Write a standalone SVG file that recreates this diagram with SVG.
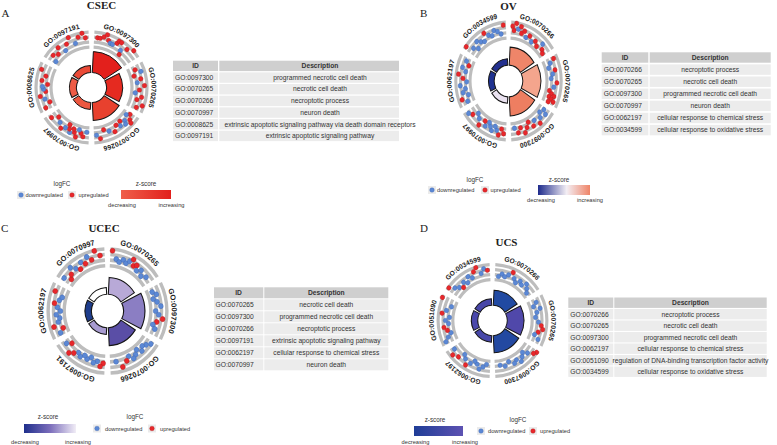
<svg xmlns="http://www.w3.org/2000/svg" xmlns:xlink="http://www.w3.org/1999/xlink" width="777" height="445" viewBox="0 0 777 445">
<style>
.bd{fill:none;stroke:#bdbdbd;stroke-width:3.2}
.bar{stroke:#141414;stroke-width:1}
.u{fill:#e8272b;stroke:#a81c1c;stroke-width:.35}
.d{fill:#5b88d5;stroke:#3d63ad;stroke-width:.35}
.go{font-family:"Liberation Sans",Arial,sans-serif;font-size:6.8px;font-weight:bold;fill:#1a1a1a;text-anchor:middle}
.tt{font-family:"Liberation Serif","Times New Roman",serif;font-weight:bold;font-size:11px;fill:#222;text-anchor:middle}
.pl{font-family:"Liberation Serif","Times New Roman",serif;font-size:11px;fill:#222}
.lg{font-family:"Liberation Sans",Arial,sans-serif;font-size:5.7px;fill:#333}
.lgh{font-family:"Liberation Sans",Arial,sans-serif;font-size:6.3px;fill:#333;text-anchor:middle}
.key{fill:#ebebeb}
.th{fill:#cfcfcf}
.tr{fill:#ececec}
.tx{font-family:"Liberation Sans",Arial,sans-serif;font-size:6.7px;fill:#333}
.tc{text-anchor:middle}
.tb{font-weight:bold}
</style>
<defs>
<g id="seg">
<path class="bd" d="M2.12,-40.44A40.5,40.5 0 0 1 33.97,-22.06"/>
<path class="bd" d="M2.38,-45.44A45.5,45.5 0 0 1 38.16,-24.78"/>
<path class="bd" d="M2.64,-50.43A50.5,50.5 0 0 1 42.35,-27.5"/>
<path class="bd" d="M2.9,-55.42A55.5,55.5 0 0 1 46.55,-30.23"/>
</g>
<path id="l1" d="M-10.42,-59.09A60,60 0 0 1 56.38,-20.52"/>
<path id="b36" class="bar" d="M0.785,-14.98L1.88,-35.95A36,36 0 0 1 30.19,-19.61L12.58,-8.17A15,15 0 0 0 0.785,-14.98Z"/>
<path id="b31" class="bar" d="M0.785,-14.98L1.62,-30.96A31,31 0 0 1 26,-16.88L12.58,-8.17A15,15 0 0 0 0.785,-14.98Z"/>
<path id="b33" class="bar" d="M0.785,-14.98L1.73,-32.95A33,33 0 0 1 27.68,-17.97L12.58,-8.17A15,15 0 0 0 0.785,-14.98Z"/>
<path id="b22" class="bar" d="M0.785,-14.98L1.15,-21.97A22,22 0 0 1 18.45,-11.98L12.58,-8.17A15,15 0 0 0 0.785,-14.98Z"/>
<path id="b21" class="bar" d="M0.785,-14.98L1.1,-20.97A21,21 0 0 1 17.61,-11.44L12.58,-8.17A15,15 0 0 0 0.785,-14.98Z"/>
<path id="b32" class="bar" d="M0.785,-14.98L1.67,-31.96A32,32 0 0 1 26.84,-17.43L12.58,-8.17A15,15 0 0 0 0.785,-14.98Z"/>
<path id="b34" class="bar" d="M0.785,-14.98L1.78,-33.95A34,34 0 0 1 28.52,-18.52L12.58,-8.17A15,15 0 0 0 0.785,-14.98Z"/>
<path id="b30" class="bar" d="M0.785,-14.98L1.57,-29.96A30,30 0 0 1 25.16,-16.34L12.58,-8.17A15,15 0 0 0 0.785,-14.98Z"/>
<path id="b35" class="bar" d="M0.785,-14.98L1.83,-34.95A35,35 0 0 1 29.35,-19.06L12.58,-8.17A15,15 0 0 0 0.785,-14.98Z"/>
<path id="b215" class="bar" d="M0.785,-14.98L1.12,-21.47A21.5,21.5 0 0 1 18.03,-11.71L12.58,-8.17A15,15 0 0 0 0.785,-14.98Z"/>
<linearGradient id="gA"><stop offset="0" stop-color="#ef5f4a"/><stop offset="1" stop-color="#e2201c"/></linearGradient>
<linearGradient id="gB"><stop offset="0" stop-color="#1e2b8c"/><stop offset=".55" stop-color="#f3eef4"/><stop offset="1" stop-color="#ef8467"/></linearGradient>
<linearGradient id="gC"><stop offset="0" stop-color="#1f2f8c"/><stop offset=".5" stop-color="#7b6dbb"/><stop offset="1" stop-color="#f1edf6"/></linearGradient>
<linearGradient id="gD"><stop offset="0" stop-color="#1f3d97"/><stop offset="1" stop-color="#5d52b2"/></linearGradient>
</defs>
<rect width="777" height="445" fill="#fff"/>

<!-- Panel A -->
<g id="panel-A">
<text class="pl" x="1.5" y="17">A</text>
<text class="tt" x="101.5" y="9">CSEC</text>
<g id="A-circle" transform="translate(91.5,87.5)">
<g id="A-GO0097300">
<use href="#seg"/><use href="#b36" fill="#e3201c"/>
<circle class="u" r="2.3" cy="-50" transform="rotate(7)"/><circle class="u" r="2.3" cy="-50" transform="rotate(10)"/><circle class="u" r="2.3" cy="-52" transform="rotate(14)"/><circle class="u" r="2.3" cy="-55" transform="rotate(17)"/><circle class="u" r="2.3" cy="-50" transform="rotate(20)"/><circle class="d" r="2.3" cy="-48" transform="rotate(23)"/><circle class="d" r="2.3" cy="-48" transform="rotate(26)"/><circle class="u" r="2.3" cy="-51" transform="rotate(30)"/><circle class="u" r="2.3" cy="-54" transform="rotate(31)"/><circle class="u" r="2.3" cy="-54" transform="rotate(34)"/><circle class="d" r="2.3" cy="-47" transform="rotate(38)"/><circle class="u" r="2.3" cy="-43" transform="rotate(40)"/><circle class="u" r="2.3" cy="-52" transform="rotate(43)"/><circle class="u" r="2.3" cy="-56" transform="rotate(49)"/>
<text class="go"><textPath href="#l1" startOffset="50%">GO:0097300</textPath></text>
</g>
<g id="A-GO0070265" transform="rotate(60)">
<use href="#seg"/><use href="#b31" fill="#e52a20"/>
<circle class="u" r="2.3" cy="-47" transform="rotate(8)"/><circle class="d" r="2.3" cy="-52" transform="rotate(12)"/><circle class="u" r="2.3" cy="-44" transform="rotate(15)"/><circle class="u" r="2.3" cy="-50" transform="rotate(20)"/><circle class="d" r="2.3" cy="-46" transform="rotate(24)"/><circle class="u" r="2.3" cy="-53" transform="rotate(28)"/><circle class="u" r="2.3" cy="-48" transform="rotate(33)"/><circle class="d" r="2.3" cy="-44" transform="rotate(37)"/><circle class="u" r="2.3" cy="-51" transform="rotate(41)"/><circle class="u" r="2.3" cy="-47" transform="rotate(45)"/><circle class="u" r="2.3" cy="-54" transform="rotate(50)"/><circle class="u" r="2.3" cy="-49" transform="rotate(54)"/>
<text class="go"><textPath href="#l1" startOffset="50%">GO:0070265</textPath></text>
</g>
<g id="A-GO0070266" transform="rotate(120)">
<use href="#seg"/><use href="#b33" fill="#e8412e"/>
<circle class="u" r="2.3" cy="-47" transform="rotate(5)"/><circle class="d" r="2.3" cy="-44" transform="rotate(8)"/><circle class="u" r="2.3" cy="-50" transform="rotate(10)"/><circle class="u" r="2.3" cy="-53" transform="rotate(12)"/><circle class="d" r="2.3" cy="-47" transform="rotate(15)"/><circle class="d" r="2.3" cy="-50" transform="rotate(17)"/><circle class="u" r="2.3" cy="-44" transform="rotate(20)"/><circle class="d" r="2.3" cy="-48" transform="rotate(23)"/><circle class="u" r="2.3" cy="-45" transform="rotate(27)"/><circle class="u" r="2.3" cy="-50" transform="rotate(32)"/><circle class="d" r="2.3" cy="-47" transform="rotate(38)"/><circle class="u" r="2.3" cy="-44" transform="rotate(44)"/><circle class="u" r="2.3" cy="-52" transform="rotate(50)"/><circle class="d" r="2.3" cy="-48" transform="rotate(54)"/>
<text class="go"><textPath href="#l1" startOffset="50%">GO:0070266</textPath></text>
</g>
<g id="A-GO0070997" transform="rotate(180)">
<use href="#seg"/><use href="#b22" fill="#ec5740"/>
<circle class="d" r="2.3" cy="-45" transform="rotate(6)"/><circle class="u" r="2.3" cy="-50" transform="rotate(10)"/><circle class="u" r="2.3" cy="-47" transform="rotate(13)"/><circle class="d" r="2.3" cy="-44" transform="rotate(16)"/><circle class="u" r="2.3" cy="-52" transform="rotate(18)"/><circle class="u" r="2.3" cy="-48" transform="rotate(21)"/><circle class="u" r="2.3" cy="-45" transform="rotate(23)"/><circle class="d" r="2.3" cy="-50" transform="rotate(26)"/><circle class="u" r="2.3" cy="-47" transform="rotate(28)"/><circle class="u" r="2.3" cy="-43" transform="rotate(30)"/><circle class="d" r="2.3" cy="-48" transform="rotate(33)"/><circle class="u" r="2.3" cy="-51" transform="rotate(37)"/><circle class="d" r="2.3" cy="-47" transform="rotate(42)"/><circle class="u" r="2.3" cy="-44" transform="rotate(48)"/><circle class="u" r="2.3" cy="-50" transform="rotate(53)"/>
<text class="go"><textPath href="#l1" startOffset="50%">GO:0070997</textPath></text>
</g>
<g id="A-GO0008625" transform="rotate(240)">
<use href="#seg"/><use href="#b22" fill="#ee5c46"/>
<circle class="u" r="2.3" cy="-50" transform="rotate(6)"/><circle class="u" r="2.3" cy="-44" transform="rotate(11)"/><circle class="d" r="2.3" cy="-48" transform="rotate(16)"/><circle class="u" r="2.3" cy="-52" transform="rotate(20)"/><circle class="u" r="2.3" cy="-46" transform="rotate(25)"/><circle class="d" r="2.3" cy="-48" transform="rotate(28)"/><circle class="d" r="2.3" cy="-49" transform="rotate(31)"/><circle class="u" r="2.3" cy="-44" transform="rotate(34)"/><circle class="u" r="2.3" cy="-50" transform="rotate(38)"/><circle class="u" r="2.3" cy="-47" transform="rotate(44)"/><circle class="u" r="2.3" cy="-53" transform="rotate(50)"/>
<text class="go"><textPath href="#l1" startOffset="50%">GO:0008625</textPath></text>
</g>
<g id="A-GO0097191" transform="rotate(300)">
<use href="#seg"/><use href="#b22" fill="#ea4a37"/>
<circle class="d" r="2.3" cy="-44" transform="rotate(6)"/><circle class="u" r="2.3" cy="-50" transform="rotate(10)"/><circle class="u" r="2.3" cy="-47" transform="rotate(15)"/><circle class="u" r="2.3" cy="-52" transform="rotate(20)"/><circle class="d" r="2.3" cy="-45" transform="rotate(25)"/><circle class="u" r="2.3" cy="-50" transform="rotate(30)"/><circle class="u" r="2.3" cy="-55" transform="rotate(35)"/><circle class="d" r="2.3" cy="-47" transform="rotate(40)"/><circle class="u" r="2.3" cy="-52" transform="rotate(45)"/><circle class="u" r="2.3" cy="-55" transform="rotate(50)"/><circle class="u" r="2.3" cy="-50" transform="rotate(53)"/>
<text class="go"><textPath href="#l1" startOffset="50%">GO:0097191</textPath></text>
</g>
</g>
<g id="A-legend">
<text class="lgh" x="62" y="186">logFC</text>
<rect class="key" x="17" y="191" width="8" height="8"/><circle class="d" r="2.3" cx="21" cy="195"/>
<text class="lg" x="25.5" y="197">downregulated</text>
<rect class="key" x="68" y="191" width="8" height="8"/><circle class="u" r="2.3" cx="72" cy="195"/>
<text class="lg" x="78.5" y="197">upregulated</text>
<text class="lgh" x="146" y="186">z-score</text>
<rect x="121" y="190" width="50" height="9" fill="url(#gA)"/>
<text class="lg tc" x="122" y="206.5">decreasing</text>
<text class="lg tc" x="171.5" y="206.5">increasing</text>
</g>
<g id="A-table" class="tx" transform="translate(173,60.7)">
<rect class="th" width="45" height="10.4"/><rect class="th" x="46.3" width="179.7" height="10.4"/>
<rect class="tr" y="11.67" width="45" height="10.4"/><rect class="tr" x="46.3" y="11.67" width="179.7" height="10.4"/>
<rect class="tr" y="23.34" width="45" height="10.4"/><rect class="tr" x="46.3" y="23.34" width="179.7" height="10.4"/>
<rect class="tr" y="35.01" width="45" height="10.4"/><rect class="tr" x="46.3" y="35.01" width="179.7" height="10.4"/>
<rect class="tr" y="46.68" width="45" height="10.4"/><rect class="tr" x="46.3" y="46.68" width="179.7" height="10.4"/>
<rect class="tr" y="58.35" width="45" height="10.4"/><rect class="tr" x="46.3" y="58.35" width="179.7" height="10.4"/>
<rect class="tr" y="70.02" width="45" height="10.4"/><rect class="tr" x="46.3" y="70.02" width="179.7" height="10.4"/>
<text class="tc tb" x="22.5" y="7.5">ID</text><text class="tc tb" x="147" y="7.5">Description</text>
<text x="2" y="19.2">GO:0097300</text><text class="tc" x="147" y="19.2">programmed necrotic cell death</text>
<text x="2" y="30.8">GO:0070265</text><text class="tc" x="147" y="30.8">necrotic cell death</text>
<text x="2" y="42.5">GO:0070266</text><text class="tc" x="147" y="42.5">necroptotic process</text>
<text x="2" y="54.2">GO:0070997</text><text class="tc" x="147" y="54.2">neuron death</text>
<text x="2" y="65.9">GO:0008625</text><text class="tc" x="147" y="65.9">extrinsic apoptotic signaling pathway via death domain receptors</text>
<text x="2" y="77.5">GO:0097191</text><text class="tc" x="147" y="77.5">extrinsic apoptotic signaling pathway</text>
</g>
</g>

<!-- Panel B -->
<g id="panel-B">
<text class="pl" x="420" y="17">B</text>
<text class="tt" x="508.5" y="10">OV</text>
<g id="B-circle" transform="translate(508.5,81) scale(0.95,1.06)">
<g id="B-GO0070266">
<use href="#seg"/><use href="#b32" fill="#ef8569"/>
<circle class="u" r="2.3" cy="-52" transform="rotate(5)"/><circle class="u" r="2.3" cy="-48" transform="rotate(7)"/><circle class="u" r="2.3" cy="-55" transform="rotate(9)"/><circle class="d" r="2.3" cy="-50" transform="rotate(12)"/><circle class="u" r="2.3" cy="-53" transform="rotate(15)"/><circle class="u" r="2.3" cy="-47" transform="rotate(17)"/><circle class="u" r="2.3" cy="-50" transform="rotate(20)"/><circle class="d" r="2.3" cy="-45" transform="rotate(24)"/><circle class="u" r="2.3" cy="-48" transform="rotate(28)"/><circle class="d" r="2.3" cy="-44" transform="rotate(33)"/><circle class="u" r="2.3" cy="-47" transform="rotate(37)"/><circle class="u" r="2.3" cy="-44" transform="rotate(42)"/><circle class="d" r="2.3" cy="-50" transform="rotate(46)"/><circle class="u" r="2.3" cy="-46" transform="rotate(50)"/><circle class="u" r="2.3" cy="-44" transform="rotate(54)"/>
<text class="go"><textPath href="#l1" startOffset="50%">GO:0070266</textPath></text>
</g>
<g id="B-GO0070265" transform="rotate(60)">
<use href="#seg"/><use href="#b34" fill="#f4a58d"/>
<circle class="u" r="2.3" cy="-52" transform="rotate(6)"/><circle class="d" r="2.3" cy="-47" transform="rotate(9)"/><circle class="d" r="2.3" cy="-44" transform="rotate(14)"/><circle class="u" r="2.3" cy="-50" transform="rotate(18)"/><circle class="d" r="2.3" cy="-47" transform="rotate(22)"/><circle class="d" r="2.3" cy="-45" transform="rotate(27)"/><circle class="u" r="2.3" cy="-51" transform="rotate(32)"/><circle class="d" r="2.3" cy="-48" transform="rotate(37)"/><circle class="u" r="2.3" cy="-44" transform="rotate(42)"/><circle class="u" r="2.3" cy="-47" transform="rotate(45)"/><circle class="u" r="2.3" cy="-50" transform="rotate(47)"/><circle class="u" r="2.3" cy="-45" transform="rotate(49)"/><circle class="u" r="2.3" cy="-48" transform="rotate(51)"/><circle class="u" r="2.3" cy="-51" transform="rotate(53)"/><circle class="u" r="2.3" cy="-46" transform="rotate(55)"/>
<text class="go"><textPath href="#l1" startOffset="50%">GO:0070265</textPath></text>
</g>
<g id="B-GO0097300" transform="rotate(120)">
<use href="#seg"/><use href="#b33" fill="#ee7e61"/>
<circle class="d" r="2.3" cy="-46" transform="rotate(6)"/><circle class="d" r="2.3" cy="-50" transform="rotate(9)"/><circle class="d" r="2.3" cy="-44" transform="rotate(12)"/><circle class="d" r="2.3" cy="-48" transform="rotate(16)"/><circle class="u" r="2.3" cy="-52" transform="rotate(20)"/><circle class="d" r="2.3" cy="-46" transform="rotate(24)"/><circle class="u" r="2.3" cy="-50" transform="rotate(28)"/><circle class="u" r="2.3" cy="-44" transform="rotate(32)"/><circle class="u" r="2.3" cy="-48" transform="rotate(36)"/><circle class="u" r="2.3" cy="-52" transform="rotate(40)"/><circle class="u" r="2.3" cy="-46" transform="rotate(44)"/><circle class="u" r="2.3" cy="-50" transform="rotate(48)"/><circle class="d" r="2.3" cy="-45" transform="rotate(52)"/>
<text class="go"><textPath href="#l1" startOffset="50%">GO:0097300</textPath></text>
</g>
<g id="B-GO0070997" transform="rotate(180)">
<use href="#seg"/><use href="#b21" fill="#e9e1ef"/>
<circle class="u" r="2.3" cy="-50" transform="rotate(6)"/><circle class="u" r="2.3" cy="-46" transform="rotate(9)"/><circle class="u" r="2.3" cy="-52" transform="rotate(12)"/><circle class="d" r="2.3" cy="-48" transform="rotate(15)"/><circle class="d" r="2.3" cy="-45" transform="rotate(18)"/><circle class="d" r="2.3" cy="-50" transform="rotate(21)"/><circle class="d" r="2.3" cy="-47" transform="rotate(24)"/><circle class="d" r="2.3" cy="-44" transform="rotate(27)"/><circle class="d" r="2.3" cy="-49" transform="rotate(30)"/><circle class="u" r="2.3" cy="-45" transform="rotate(33)"/><circle class="u" r="2.3" cy="-52" transform="rotate(37)"/><circle class="d" r="2.3" cy="-47" transform="rotate(41)"/><circle class="d" r="2.3" cy="-44" transform="rotate(46)"/><circle class="u" r="2.3" cy="-49" transform="rotate(50)"/><circle class="d" r="2.3" cy="-52" transform="rotate(54)"/>
<text class="go"><textPath href="#l1" startOffset="50%">GO:0070997</textPath></text>
</g>
<g id="B-GO0062197" transform="rotate(240)">
<use href="#seg"/><use href="#b21" fill="#1f3290"/>
<circle class="d" r="2.3" cy="-47" transform="rotate(6)"/><circle class="u" r="2.3" cy="-52" transform="rotate(10)"/><circle class="d" r="2.3" cy="-44" transform="rotate(13)"/><circle class="d" r="2.3" cy="-49" transform="rotate(17)"/><circle class="d" r="2.3" cy="-46" transform="rotate(21)"/><circle class="d" r="2.3" cy="-51" transform="rotate(25)"/><circle class="d" r="2.3" cy="-44" transform="rotate(29)"/><circle class="u" r="2.3" cy="-48" transform="rotate(33)"/><circle class="u" r="2.3" cy="-53" transform="rotate(37)"/><circle class="d" r="2.3" cy="-46" transform="rotate(41)"/><circle class="d" r="2.3" cy="-50" transform="rotate(45)"/><circle class="u" r="2.3" cy="-44" transform="rotate(49)"/><circle class="d" r="2.3" cy="-48" transform="rotate(53)"/>
<text class="go"><textPath href="#l1" startOffset="50%">GO:0062197</textPath></text>
</g>
<g id="B-GO0034599" transform="rotate(300)">
<use href="#seg"/><use href="#b21" fill="#23308e"/>
<circle class="u" r="2.3" cy="-55" transform="rotate(6)"/><circle class="d" r="2.3" cy="-48" transform="rotate(10)"/><circle class="d" r="2.3" cy="-44" transform="rotate(14)"/><circle class="d" r="2.3" cy="-50" transform="rotate(18)"/><circle class="d" r="2.3" cy="-47" transform="rotate(22)"/><circle class="d" r="2.3" cy="-45" transform="rotate(26)"/><circle class="u" r="2.3" cy="-52" transform="rotate(30)"/><circle class="d" r="2.3" cy="-48" transform="rotate(34)"/><circle class="d" r="2.3" cy="-46" transform="rotate(38)"/><circle class="d" r="2.3" cy="-50" transform="rotate(42)"/><circle class="d" r="2.3" cy="-48" transform="rotate(46)"/><circle class="d" r="2.3" cy="-45" transform="rotate(50)"/><circle class="u" r="2.3" cy="-53" transform="rotate(54)"/>
<text class="go"><textPath href="#l1" startOffset="50%">GO:0034599</textPath></text>
</g>
</g>
<g id="B-legend">
<text class="lgh" x="475" y="181.5">logFC</text>
<rect class="key" x="428" y="186" width="8" height="8"/><circle class="d" r="2.3" cx="432" cy="190"/>
<text class="lg" x="437" y="192">downregulated</text>
<rect class="key" x="481" y="186" width="8" height="8"/><circle class="u" r="2.3" cx="485" cy="190"/>
<text class="lg" x="490.5" y="192">upregulated</text>
<text class="lgh" x="559" y="181.5">z-score</text>
<rect x="538" y="185" width="52" height="10" fill="url(#gB)"/>
<text class="lg tc" x="541" y="202">decreasing</text>
<text class="lg tc" x="590" y="202">increasing</text>
</g>
<g id="B-table" class="tx" transform="translate(601.7,52.3)">
<rect class="th" width="46.6" height="10.4"/><rect class="th" x="48" width="121" height="10.4"/>
<rect class="tr" y="12.1" width="46.6" height="10.4"/><rect class="tr" x="48" y="12.1" width="121" height="10.4"/>
<rect class="tr" y="24.2" width="46.6" height="10.4"/><rect class="tr" x="48" y="24.2" width="121" height="10.4"/>
<rect class="tr" y="36.3" width="46.6" height="10.4"/><rect class="tr" x="48" y="36.3" width="121" height="10.4"/>
<rect class="tr" y="48.4" width="46.6" height="10.4"/><rect class="tr" x="48" y="48.4" width="121" height="10.4"/>
<rect class="tr" y="60.5" width="46.6" height="10.4"/><rect class="tr" x="48" y="60.5" width="121" height="10.4"/>
<rect class="tr" y="72.6" width="46.6" height="10.4"/><rect class="tr" x="48" y="72.6" width="121" height="10.4"/>
<text class="tc tb" x="23.3" y="7.5">ID</text><text class="tc tb" x="108.5" y="7.5">Description</text>
<text x="2" y="19.6">GO:0070266</text><text class="tc" x="108.5" y="19.6">necroptotic process</text>
<text x="2" y="31.7">GO:0070265</text><text class="tc" x="108.5" y="31.7">necrotic cell death</text>
<text x="2" y="43.8">GO:0097300</text><text class="tc" x="108.5" y="43.8">programmed necrotic cell death</text>
<text x="2" y="55.9">GO:0070997</text><text class="tc" x="108.5" y="55.9">neuron death</text>
<text x="2" y="68">GO:0062197</text><text class="tc" x="108.5" y="68">cellular response to chemical stress</text>
<text x="2" y="80.1">GO:0034599</text><text class="tc" x="108.5" y="80.1">cellular response to oxidative stress</text>
</g>
</g>

<!-- Panel C -->
<g id="panel-C">
<text class="pl" x="1" y="232">C</text>
<text class="tt" x="104" y="232">UCEC</text>
<g id="C-circle" transform="translate(107.5,311) scale(1.07,1.12)">
<g id="C-GO0070265">
<use href="#seg"/><use href="#b30" fill="#b8a9d7"/>
<circle class="u" r="2.3" cy="-54" transform="rotate(5)"/><circle class="d" r="2.3" cy="-47" transform="rotate(10)"/><circle class="d" r="2.3" cy="-45" transform="rotate(14)"/><circle class="d" r="2.3" cy="-48" transform="rotate(18)"/><circle class="d" r="2.3" cy="-46" transform="rotate(22)"/><circle class="d" r="2.3" cy="-49" transform="rotate(25)"/><circle class="u" r="2.3" cy="-52" transform="rotate(28)"/><circle class="u" r="2.3" cy="-47" transform="rotate(31)"/><circle class="u" r="2.3" cy="-49" transform="rotate(34)"/><circle class="d" r="2.3" cy="-45" transform="rotate(37)"/><circle class="d" r="2.3" cy="-48" transform="rotate(41)"/><circle class="d" r="2.3" cy="-44" transform="rotate(45)"/><circle class="d" r="2.3" cy="-47" transform="rotate(50)"/>
<text class="go"><textPath href="#l1" startOffset="50%">GO:0070265</textPath></text>
</g>
<g id="C-GO0097300" transform="rotate(60)">
<use href="#seg"/><use href="#b35" fill="#8b7ec3"/>
<circle class="d" r="2.3" cy="-45" transform="rotate(8)"/><circle class="d" r="2.3" cy="-48" transform="rotate(12)"/><circle class="d" r="2.3" cy="-44" transform="rotate(16)"/><circle class="d" r="2.3" cy="-47" transform="rotate(20)"/><circle class="d" r="2.3" cy="-50" transform="rotate(25)"/><circle class="d" r="2.3" cy="-45" transform="rotate(30)"/><circle class="d" r="2.3" cy="-48" transform="rotate(34)"/><circle class="u" r="2.3" cy="-52" transform="rotate(38)"/><circle class="u" r="2.3" cy="-47" transform="rotate(42)"/><circle class="d" r="2.3" cy="-44" transform="rotate(46)"/><circle class="d" r="2.3" cy="-47" transform="rotate(50)"/>
<text class="go"><textPath href="#l1" startOffset="50%">GO:0097300</textPath></text>
</g>
<g id="C-GO0070266" transform="rotate(120)">
<use href="#seg"/><use href="#b31" fill="#5a4ea6"/>
<circle class="d" r="2.3" cy="-50" transform="rotate(6)"/><circle class="d" r="2.3" cy="-47" transform="rotate(10)"/><circle class="d" r="2.3" cy="-45" transform="rotate(14)"/><circle class="d" r="2.3" cy="-48" transform="rotate(18)"/><circle class="d" r="2.3" cy="-44" transform="rotate(22)"/><circle class="d" r="2.3" cy="-47" transform="rotate(26)"/><circle class="d" r="2.3" cy="-49" transform="rotate(30)"/><circle class="d" r="2.3" cy="-45" transform="rotate(34)"/><circle class="u" r="2.3" cy="-48" transform="rotate(38)"/><circle class="u" r="2.3" cy="-52" transform="rotate(44)"/><circle class="d" r="2.3" cy="-46" transform="rotate(50)"/>
<text class="go"><textPath href="#l1" startOffset="50%">GO:0070266</textPath></text>
</g>
<g id="C-GO0097191" transform="rotate(180)">
<use href="#seg"/><use href="#b21" fill="#a89bd0"/>
<circle class="u" r="2.3" cy="-47" transform="rotate(5)"/><circle class="u" r="2.3" cy="-50" transform="rotate(8)"/><circle class="d" r="2.3" cy="-46" transform="rotate(12)"/><circle class="d" r="2.3" cy="-48" transform="rotate(16)"/><circle class="d" r="2.3" cy="-44" transform="rotate(20)"/><circle class="d" r="2.3" cy="-47" transform="rotate(24)"/><circle class="d" r="2.3" cy="-45" transform="rotate(28)"/><circle class="d" r="2.3" cy="-48" transform="rotate(32)"/><circle class="d" r="2.3" cy="-46" transform="rotate(36)"/><circle class="u" r="2.3" cy="-49" transform="rotate(40)"/><circle class="u" r="2.3" cy="-52" transform="rotate(44)"/><circle class="u" r="2.3" cy="-44" transform="rotate(49)"/><circle class="d" r="2.3" cy="-48" transform="rotate(53)"/>
<text class="go"><textPath href="#l1" startOffset="50%">GO:0097191</textPath></text>
</g>
<g id="C-GO0062197" transform="rotate(240)">
<use href="#seg"/><use href="#b21" fill="#1e3d8c"/>
<circle class="d" r="2.3" cy="-48" transform="rotate(6)"/><circle class="u" r="2.3" cy="-44" transform="rotate(10)"/><circle class="u" r="2.3" cy="-52" transform="rotate(14)"/><circle class="d" r="2.3" cy="-47" transform="rotate(18)"/><circle class="d" r="2.3" cy="-45" transform="rotate(22)"/><circle class="d" r="2.3" cy="-48" transform="rotate(26)"/><circle class="d" r="2.3" cy="-44" transform="rotate(30)"/><circle class="d" r="2.3" cy="-47" transform="rotate(34)"/><circle class="u" r="2.3" cy="-50" transform="rotate(38)"/><circle class="d" r="2.3" cy="-46" transform="rotate(42)"/><circle class="d" r="2.3" cy="-44" transform="rotate(46)"/><circle class="u" r="2.3" cy="-52" transform="rotate(50)"/>
<text class="go"><textPath href="#l1" startOffset="50%">GO:0062197</textPath></text>
</g>
<g id="C-GO0070997" transform="rotate(300)">
<use href="#seg"/><use href="#b21" fill="#ffffff"/>
<circle class="d" r="2.3" cy="-50" transform="rotate(6)"/><circle class="u" r="2.3" cy="-44" transform="rotate(10)"/><circle class="u" r="2.3" cy="-47" transform="rotate(14)"/><circle class="d" r="2.3" cy="-52" transform="rotate(18)"/><circle class="d" r="2.3" cy="-48" transform="rotate(22)"/><circle class="u" r="2.3" cy="-45" transform="rotate(26)"/><circle class="d" r="2.3" cy="-50" transform="rotate(30)"/><circle class="u" r="2.3" cy="-47" transform="rotate(34)"/><circle class="d" r="2.3" cy="-52" transform="rotate(38)"/><circle class="u" r="2.3" cy="-48" transform="rotate(42)"/><circle class="u" r="2.3" cy="-55" transform="rotate(47)"/><circle class="u" r="2.3" cy="-50" transform="rotate(52)"/>
<text class="go"><textPath href="#l1" startOffset="50%">GO:0070997</textPath></text>
</g>
</g>
<g id="C-legend">
<text class="lgh" x="48" y="419">z-score</text>
<rect x="24" y="424" width="52" height="9" fill="url(#gC)"/>
<text class="lg tc" x="25" y="444">decreasing</text>
<text class="lg tc" x="78" y="444">increasing</text>
<text class="lgh" x="135" y="419">logFC</text>
<rect class="key" x="93" y="424.5" width="8" height="8"/><circle class="d" r="2.3" cx="97" cy="428.5"/>
<text class="lg" x="105" y="430.5">downregulated</text>
<rect class="key" x="148" y="424.5" width="8" height="8"/><circle class="u" r="2.3" cx="152" cy="428.5"/>
<text class="lg" x="160" y="430.5">upregulated</text>
</g>
<g id="C-table" class="tx" transform="translate(214,287.3)">
<rect class="th" width="49.3" height="11"/><rect class="th" x="50.3" width="124" height="11"/>
<rect class="tr" y="12" width="49.3" height="11"/><rect class="tr" x="50.3" y="12" width="124" height="11"/>
<rect class="tr" y="24" width="49.3" height="11"/><rect class="tr" x="50.3" y="24" width="124" height="11"/>
<rect class="tr" y="36" width="49.3" height="11"/><rect class="tr" x="50.3" y="36" width="124" height="11"/>
<rect class="tr" y="48" width="49.3" height="11"/><rect class="tr" x="50.3" y="48" width="124" height="11"/>
<rect class="tr" y="60" width="49.3" height="11"/><rect class="tr" x="50.3" y="60" width="124" height="11"/>
<rect class="tr" y="72" width="49.3" height="11"/><rect class="tr" x="50.3" y="72" width="124" height="11"/>
<text class="tc tb" x="24.6" y="7.8">ID</text><text class="tc tb" x="112.3" y="7.8">Description</text>
<text x="1.5" y="19.8">GO:0070265</text><text class="tc" x="112.3" y="19.8">necrotic cell death</text>
<text x="1.5" y="31.8">GO:0097300</text><text class="tc" x="112.3" y="31.8">programmed necrotic cell death</text>
<text x="1.5" y="43.8">GO:0070266</text><text class="tc" x="112.3" y="43.8">necroptotic process</text>
<text x="1.5" y="55.8">GO:0097191</text><text class="tc" x="112.3" y="55.8">extrinsic apoptotic signaling pathway</text>
<text x="1.5" y="67.8">GO:0062197</text><text class="tc" x="112.3" y="67.8">cellular response to chemical stress</text>
<text x="1.5" y="79.8">GO:0070997</text><text class="tc" x="112.3" y="79.8">neuron death</text>
</g>
</g>

<!-- Panel D -->
<g id="panel-D">
<text class="pl" x="420" y="231.5">D</text>
<text class="tt" x="506.5" y="246">UCS</text>
<g id="D-circle" transform="translate(492.5,320.5) scale(0.98,1.01)">
<g id="D-GO0070266">
<use href="#seg"/><use href="#b30" fill="#214aa2"/>
<circle class="d" r="2.3" cy="-44" transform="rotate(8)"/><circle class="d" r="2.3" cy="-47" transform="rotate(12)"/><circle class="d" r="2.3" cy="-45" transform="rotate(16)"/><circle class="d" r="2.3" cy="-48" transform="rotate(20)"/><circle class="u" r="2.3" cy="-52" transform="rotate(24)"/><circle class="d" r="2.3" cy="-47" transform="rotate(28)"/><circle class="d" r="2.3" cy="-44" transform="rotate(32)"/><circle class="d" r="2.3" cy="-48" transform="rotate(36)"/><circle class="d" r="2.3" cy="-46" transform="rotate(40)"/><circle class="d" r="2.3" cy="-50" transform="rotate(44)"/><circle class="d" r="2.3" cy="-47" transform="rotate(48)"/><circle class="d" r="2.3" cy="-44" transform="rotate(52)"/>
<text class="go"><textPath href="#l1" startOffset="50%">GO:0070266</textPath></text>
</g>
<g id="D-GO0070265" transform="rotate(60)">
<use href="#seg"/><use href="#b32" fill="#5048aa"/>
<circle class="d" r="2.3" cy="-48" transform="rotate(8)"/><circle class="d" r="2.3" cy="-44" transform="rotate(12)"/><circle class="d" r="2.3" cy="-50" transform="rotate(16)"/><circle class="d" r="2.3" cy="-46" transform="rotate(20)"/><circle class="d" r="2.3" cy="-44" transform="rotate(26)"/><circle class="d" r="2.3" cy="-47" transform="rotate(32)"/><circle class="u" r="2.3" cy="-50" transform="rotate(36)"/><circle class="u" r="2.3" cy="-52" transform="rotate(40)"/><circle class="u" r="2.3" cy="-48" transform="rotate(44)"/><circle class="d" r="2.3" cy="-45" transform="rotate(48)"/><circle class="d" r="2.3" cy="-50" transform="rotate(52)"/>
<text class="go"><textPath href="#l1" startOffset="50%">GO:0070265</textPath></text>
</g>
<g id="D-GO0097300" transform="rotate(120)">
<use href="#seg"/><use href="#b32" fill="#2349a1"/>
<circle class="u" r="2.3" cy="-55" transform="rotate(5)"/><circle class="u" r="2.3" cy="-53" transform="rotate(8)"/><circle class="d" r="2.3" cy="-48" transform="rotate(12)"/><circle class="d" r="2.3" cy="-44" transform="rotate(16)"/><circle class="d" r="2.3" cy="-47" transform="rotate(20)"/><circle class="d" r="2.3" cy="-50" transform="rotate(24)"/><circle class="d" r="2.3" cy="-46" transform="rotate(28)"/><circle class="d" r="2.3" cy="-48" transform="rotate(32)"/><circle class="d" r="2.3" cy="-44" transform="rotate(38)"/><circle class="d" r="2.3" cy="-47" transform="rotate(44)"/><circle class="d" r="2.3" cy="-45" transform="rotate(50)"/>
<text class="go"><textPath href="#l1" startOffset="50%">GO:0097300</textPath></text>
</g>
<g id="D-GO0062197" transform="rotate(180)">
<use href="#seg"/><use href="#b215" fill="#4747a9"/>
<circle class="d" r="2.3" cy="-44" transform="rotate(8)"/><circle class="d" r="2.3" cy="-47" transform="rotate(12)"/><circle class="d" r="2.3" cy="-50" transform="rotate(16)"/><circle class="d" r="2.3" cy="-46" transform="rotate(20)"/><circle class="d" r="2.3" cy="-44" transform="rotate(24)"/><circle class="d" r="2.3" cy="-48" transform="rotate(28)"/><circle class="u" r="2.3" cy="-52" transform="rotate(32)"/><circle class="d" r="2.3" cy="-47" transform="rotate(36)"/><circle class="d" r="2.3" cy="-44" transform="rotate(40)"/><circle class="u" r="2.3" cy="-50" transform="rotate(44)"/><circle class="u" r="2.3" cy="-53" transform="rotate(50)"/><circle class="d" r="2.3" cy="-48" transform="rotate(54)"/>
<text class="go"><textPath href="#l1" startOffset="50%">GO:0062197</textPath></text>
</g>
<g id="D-GO0051090" transform="rotate(240)">
<use href="#seg"/><use href="#b215" fill="#4a48ab"/>
<circle class="d" r="2.3" cy="-52" transform="rotate(6)"/><circle class="d" r="2.3" cy="-48" transform="rotate(10)"/><circle class="d" r="2.3" cy="-44" transform="rotate(14)"/><circle class="u" r="2.3" cy="-47" transform="rotate(18)"/><circle class="u" r="2.3" cy="-50" transform="rotate(22)"/><circle class="d" r="2.3" cy="-45" transform="rotate(26)"/><circle class="d" r="2.3" cy="-48" transform="rotate(30)"/><circle class="d" r="2.3" cy="-44" transform="rotate(34)"/><circle class="u" r="2.3" cy="-52" transform="rotate(38)"/><circle class="d" r="2.3" cy="-48" transform="rotate(42)"/><circle class="d" r="2.3" cy="-44" transform="rotate(48)"/><circle class="u" r="2.3" cy="-56" transform="rotate(54)"/>
<text class="go"><textPath href="#l1" startOffset="50%">GO:0051090</textPath></text>
</g>
<g id="D-GO0034599" transform="rotate(300)">
<use href="#seg"/><use href="#b215" fill="#4846a8"/>
<circle class="u" r="2.3" cy="-55" transform="rotate(6)"/><circle class="d" r="2.3" cy="-50" transform="rotate(10)"/><circle class="d" r="2.3" cy="-47" transform="rotate(14)"/><circle class="u" r="2.3" cy="-44" transform="rotate(18)"/><circle class="d" r="2.3" cy="-48" transform="rotate(22)"/><circle class="d" r="2.3" cy="-45" transform="rotate(26)"/><circle class="d" r="2.3" cy="-50" transform="rotate(30)"/><circle class="d" r="2.3" cy="-47" transform="rotate(34)"/><circle class="u" r="2.3" cy="-52" transform="rotate(38)"/><circle class="u" r="2.3" cy="-55" transform="rotate(42)"/><circle class="d" r="2.3" cy="-48" transform="rotate(46)"/><circle class="d" r="2.3" cy="-52" transform="rotate(50)"/><circle class="u" r="2.3" cy="-50" transform="rotate(54)"/>
<text class="go"><textPath href="#l1" startOffset="50%">GO:0034599</textPath></text>
</g>
</g>
<g id="D-legend">
<text class="lgh" x="435" y="421.5">z-score</text>
<rect x="414" y="426" width="49" height="10" fill="url(#gD)"/>
<text class="lg tc" x="415.5" y="444">decreasing</text>
<text class="lg tc" x="465" y="444">increasing</text>
<text class="lgh" x="518" y="421.5">logFC</text>
<rect class="key" x="477" y="427" width="8" height="8"/><circle class="d" r="2.3" cx="481" cy="431"/>
<text class="lg" x="488" y="433">downregulated</text>
<rect class="key" x="529" y="427" width="8" height="8"/><circle class="u" r="2.3" cx="533" cy="431"/>
<text class="lg" x="540" y="433">upregulated</text>
</g>
<g id="D-table" class="tx" transform="translate(568.3,297.5)">
<rect class="th" width="45" height="10.4"/><rect class="th" x="46" width="152.4" height="10.4"/>
<rect class="tr" y="11.5" width="45" height="10.4"/><rect class="tr" x="46" y="11.5" width="152.4" height="10.4"/>
<rect class="tr" y="23" width="45" height="10.4"/><rect class="tr" x="46" y="23" width="152.4" height="10.4"/>
<rect class="tr" y="34.5" width="45" height="10.4"/><rect class="tr" x="46" y="34.5" width="152.4" height="10.4"/>
<rect class="tr" y="46" width="45" height="10.4"/><rect class="tr" x="46" y="46" width="152.4" height="10.4"/>
<rect class="tr" y="57.5" width="45" height="10.4"/><rect class="tr" x="46" y="57.5" width="152.4" height="10.4"/>
<rect class="tr" y="69" width="45" height="10.4"/><rect class="tr" x="46" y="69" width="152.4" height="10.4"/>
<text class="tc tb" x="22.5" y="7.5">ID</text><text class="tc tb" x="122.2" y="7.5">Description</text>
<text x="2" y="19">GO:0070266</text><text class="tc" x="122.2" y="19">necroptotic process</text>
<text x="2" y="30.5">GO:0070265</text><text class="tc" x="122.2" y="30.5">necrotic cell death</text>
<text x="2" y="42">GO:0097300</text><text class="tc" x="122.2" y="42">programmed necrotic cell death</text>
<text x="2" y="53.5">GO:0062197</text><text class="tc" x="122.2" y="53.5">cellular response to chemical stress</text>
<text x="2" y="65">GO:0051090</text><text class="tc" x="122.2" y="65">regulation of DNA-binding transcription factor activity</text>
<text x="2" y="76.5">GO:0034599</text><text class="tc" x="122.2" y="76.5">cellular response to oxidative stress</text>
</g>
</g>
</svg>
